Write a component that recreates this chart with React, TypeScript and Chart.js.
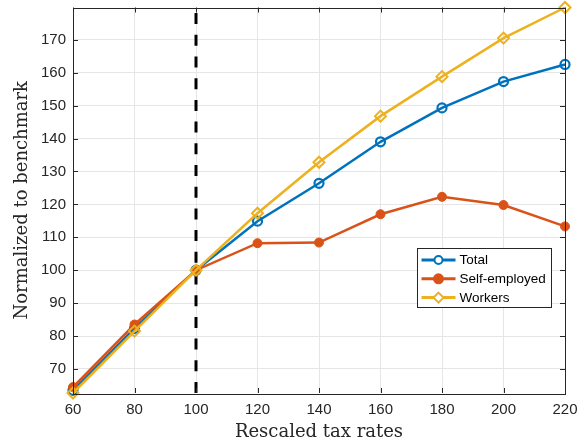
import React, { useEffect, useRef } from "react";
import { Chart, registerables } from "chart.js";

Chart.register(...registerables);

const rates = [60, 80, 100, 120, 140, 160, 180, 200, 220];
const total = [63.5, 82.3, 100, 114.9, 126.4, 139.0, 149.3, 157.3, 162.5];
const selfEmployed = [64.5, 83.5, 100, 108.2, 108.4, 117.0, 122.3, 119.8, 113.3];
const workers = [62.7, 81.5, 100, 117.3, 132.8, 146.8, 158.8, 170.5, 179.8];
const benchmark = 100;
const xTicks = [60, 80, 100, 120, 140, 160, 180, 200, 220];
const yTicks = [70, 80, 90, 100, 110, 120, 130, 140, 150, 160, 170];
const seriesNames = ["Total", "Self-employed", "Workers"];
const seriesColors = ["#0072BD", "#D95319", "#EDB120"];

const yMin = Math.min(...total, ...selfEmployed, ...workers);
const yMax = Math.max(...total, ...selfEmployed, ...workers);

const AXIS = "#262626";

function drawMarker(ctx: CanvasRenderingContext2D, kind: number, x: number, y: number, color: string) {
  ctx.save();
  ctx.strokeStyle = color;
  ctx.fillStyle = color;
  ctx.lineWidth = 2;
  ctx.beginPath();
  if (kind === 0) {
    ctx.arc(x, y, 4, 0, Math.PI * 2);
    ctx.fillStyle = "#ffffff";
    ctx.fill();
    ctx.stroke();
  } else if (kind === 1) {
    ctx.arc(x, y, 4.5, 0, Math.PI * 2);
    ctx.fill();
    ctx.stroke();
  } else {
    const r = 5;
    ctx.moveTo(x, y - r);
    ctx.lineTo(x + r, y);
    ctx.lineTo(x, y + r);
    ctx.lineTo(x - r, y);
    ctx.closePath();
    ctx.fillStyle = "#ffffff";
    ctx.fill();
    ctx.stroke();
  }
  ctx.restore();
}

const boxPlugin = {
  id: "matlabBox",
  afterDatasetsDraw(chart: any) {
    const { ctx, chartArea: a, scales } = chart;
    ctx.save();
    ctx.strokeStyle = AXIS;
    ctx.lineWidth = 1;
    const tl = 5;
    ctx.beginPath();
    xTicks.forEach((v) => {
      const px = Math.round(scales.x.getPixelForValue(v)) + 0.5;
      ctx.moveTo(px, a.bottom);
      ctx.lineTo(px, a.bottom - tl);
      ctx.moveTo(px, a.top);
      ctx.lineTo(px, a.top + tl);
    });
    yTicks.forEach((v) => {
      const py = Math.round(scales.y.getPixelForValue(v)) + 0.5;
      ctx.moveTo(a.left, py);
      ctx.lineTo(a.left + tl, py);
      ctx.moveTo(a.right, py);
      ctx.lineTo(a.right - tl, py);
    });
    ctx.stroke();
    ctx.strokeRect(Math.round(a.left) + 0.5, Math.round(a.top) + 0.5, Math.round(a.right - a.left), Math.round(a.bottom - a.top));
    ctx.restore();
  },
  afterDraw(chart: any) {
    const { ctx, chartArea: a } = chart;
    const w = 134;
    const h = 59;
    const x0 = Math.round(a.right - 148) + 0.5;
    const y0 = Math.round(a.bottom - 145) + 0.5;
    ctx.save();
    ctx.fillStyle = "#ffffff";
    ctx.fillRect(x0, y0, w, h);
    ctx.strokeStyle = AXIS;
    ctx.lineWidth = 1;
    ctx.strokeRect(x0, y0, w, h);
    ctx.font = "13.5px 'Liberation Sans', Arial, sans-serif";
    ctx.textBaseline = "middle";
    ctx.textAlign = "left";
    seriesNames.forEach((name, i) => {
      const cy = y0 + 11.5 + i * 18.8;
      ctx.strokeStyle = seriesColors[i];
      ctx.lineWidth = 3;
      ctx.beginPath();
      ctx.moveTo(x0 + 4, cy);
      ctx.lineTo(x0 + 38, cy);
      ctx.stroke();
      drawMarker(ctx, i, x0 + 21, cy, seriesColors[i]);
      ctx.fillStyle = "#000000";
      ctx.fillText(name, x0 + 42, cy + 0.5);
    });
    ctx.restore();
  },
};

export default function App() {
  const ref = useRef<HTMLCanvasElement | null>(null);

  useEffect(() => {
    document.body.style.margin = "0";
    if (!ref.current) return;
    const mk = (vals: number[]) => rates.map((r, i) => ({ x: r, y: vals[i] }));
    const chart = new Chart(ref.current, {
      type: "line",
      data: {
        datasets: [
          {
            label: seriesNames[2],
            data: mk(workers),
            borderColor: seriesColors[2],
            backgroundColor: "#ffffff",
            borderWidth: 2.5,
            pointStyle: "rectRot",
            pointRadius: 5.5,
            pointBorderWidth: 2,
            pointBorderColor: seriesColors[2],
            pointBackgroundColor: "rgba(255,255,255,0)",
            order: 0,
            clip: false,
          },
          {
            label: seriesNames[1],
            data: mk(selfEmployed),
            borderColor: seriesColors[1],
            backgroundColor: seriesColors[1],
            borderWidth: 2.5,
            pointStyle: "circle",
            pointRadius: 4.5,
            pointBorderWidth: 1,
            pointBackgroundColor: seriesColors[1],
            order: 1,
            clip: false,
          },
          {
            label: seriesNames[0],
            data: mk(total),
            borderColor: seriesColors[0],
            backgroundColor: "#ffffff",
            borderWidth: 2.5,
            pointStyle: "circle",
            pointRadius: 4.5,
            pointBorderWidth: 2.2,
            pointBackgroundColor: "rgba(255,255,255,0)",
            order: 2,
            clip: false,
          },
          {
            label: "benchmark",
            data: [
              { x: benchmark, y: yMin },
              { x: benchmark, y: yMax },
            ],
            borderColor: "#000000",
            borderWidth: 3,
            borderDash: [11, 10.7],
            pointRadius: 0,
            order: 3,
          },
        ],
      },
      options: {
        animation: false,
        responsive: true,
        maintainAspectRatio: false,
        layout: { padding: { left: 0, right: 21, top: 5, bottom: 0 } },
        plugins: { legend: { display: false }, tooltip: { enabled: false } },
        scales: {
          x: {
            type: "linear",
            min: 60,
            max: 220,
            afterBuildTicks: (s: any) => {
              s.ticks = xTicks.map((v) => ({ value: v }));
            },
            afterFit: (s: any) => {
              s.height = 55;
              s.paddingLeft = 0;
              s.paddingRight = 0;
            },
            grid: { color: "#e6e6e6", lineWidth: 1, drawTicks: false },
            border: { display: false },
            ticks: {
              padding: 8,
              color: AXIS,
              font: { family: "'Liberation Sans', Arial, sans-serif", size: 15 },
              maxRotation: 0,
            },
            title: {
              display: true,
              text: "Rescaled tax rates",
              color: AXIS,
              font: { family: "'DejaVu Serif', serif", size: 18 },
              padding: { top: 0, bottom: 5 },
            },
          },
          y: {
            type: "linear",
            min: yMin,
            max: yMax,
            afterBuildTicks: (s: any) => {
              s.ticks = yTicks.map((v) => ({ value: v }));
            },
            afterFit: (s: any) => {
              s.width = 73;
              s.paddingTop = 0;
              s.paddingBottom = 0;
            },
            grid: { color: "#e6e6e6", lineWidth: 1, drawTicks: false },
            border: { display: false },
            ticks: {
              padding: 7,
              color: AXIS,
              font: { family: "'Liberation Sans', Arial, sans-serif", size: 15 },
            },
            title: {
              display: true,
              text: "Normalized to benchmark",
              color: AXIS,
              font: { family: "'DejaVu Serif', serif", size: 18 },
              padding: { top: 12, bottom: 0 },
            },
          },
        },
      },
      plugins: [boxPlugin],
    });
    return () => chart.destroy();
  }, []);

  return (
    <div style={{ width: 586, height: 448, position: "relative" }}>
      <canvas ref={ref} />
    </div>
  );
}
